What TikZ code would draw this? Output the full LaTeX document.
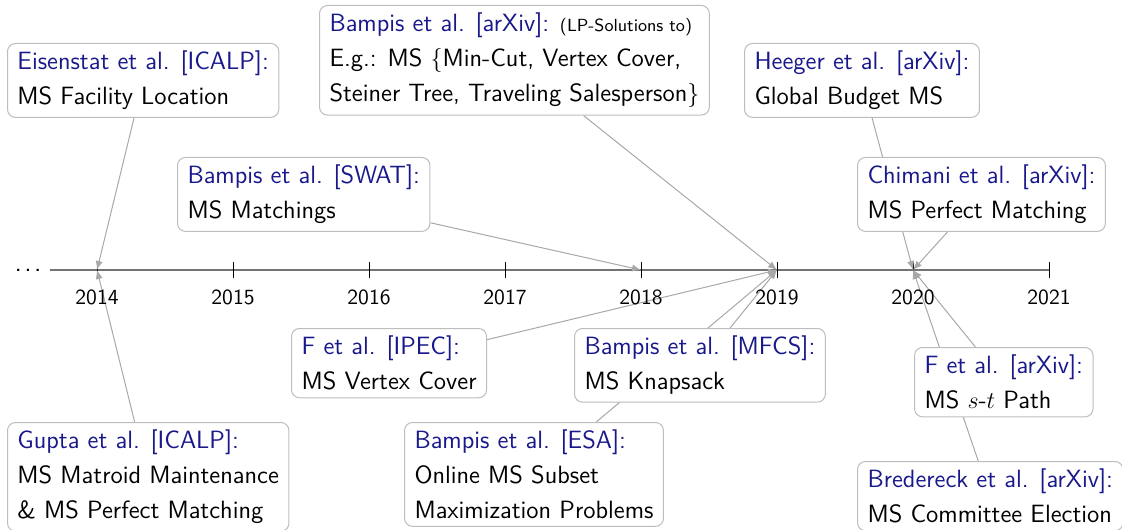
\documentclass[tikz,border=0pt]{standalone}
\usepackage{fontspec}
\usetikzlibrary{arrows.meta,backgrounds}
\definecolor{venue}{rgb}{0.1,0.1,0.55}
\definecolor{framegray}{gray}{0.74}
\definecolor{linkgray}{gray}{0.66}
\definecolor{axisgray}{gray}{0.45}
\newcommand{\who}[1]{\textcolor{venue}{#1}}
\begin{document}
\begin{tikzpicture}[x=0.5pt,y=-0.5pt,
  font=\sffamily\fontsize{12.5}{17.4}\selectfont,
  paper/.style={draw=framegray, line width=0.5pt, fill=white, rounded corners=4pt,
    align=left, anchor=north west, inner xsep=5pt, inner ysep=3.8pt},
  linkline/.style={draw=linkgray, line width=0.5pt, -{Latex[length=4.5pt,width=3.6pt]}},
  yearlabel/.style={font=\sffamily\fontsize{10.8}{12}\selectfont},
  tick/.style={draw=black, line width=0.5pt}]
\useasboundingbox (0,0) rectangle (1122,529);

% years on the time line
\foreach \yr/\xx in {2014/97,2015/233,2016/369,2017/505,2018/641,2019/777,2020/913,2021/1049}{
  \coordinate (y\yr) at (\xx,270);
  \node[yearlabel] (lab\yr) at (\xx,297.5) {\yr};
}
\coordinate (axstart) at (50,270);
\node[anchor=base, inner sep=0pt, font=\sffamily\fontsize{13.5}{14}\selectfont] (dots) at (28,271) {.\kern1.2pt.\kern1.2pt.};

% publications
\node[paper] (eis) at (7,43) {\who{Eisenstat et al. [ICALP]:}\\MS Facility Location};
\node[paper] (bax) at (319,5) {\who{Bampis et al. [arXiv]:} {\fontsize{8.8}{10}\selectfont (LP-Solutions to)}\\E.g.: MS $\{$Min-Cut, Vertex Cover,\\Steiner Tree, Traveling Salesperson$\}$};
\node[paper] (hee) at (744,43) {\who{Heeger et al. [arXiv]:}\\Global Budget MS};
\node[paper] (swat) at (177,157) {\who{Bampis et al. [SWAT]:}\\MS Matchings};
\node[paper] (chi) at (857,157) {\who{Chimani et al. [arXiv]:}\\MS Perfect Matching};
\node[paper] (ipec) at (291,328) {\who{F et al. [IPEC]:}\\MS Vertex Cover};
\node[paper] (mfcs) at (574,328) {\who{Bampis et al. [MFCS]:}\\MS Knapsack};
\node[paper] (farx) at (914,347) {\who{F et al. [arXiv]:}\\MS $s$-$t$ Path};
\node[paper] (gup) at (7,422) {\who{Gupta et al. [ICALP]:}\\MS Matroid Maintenance\\\& MS Perfect Matching};
\node[paper] (esa) at (404,422) {\who{Bampis et al. [ESA]:}\\Online MS Subset\\Maximization Problems};
\node[paper] (bre) at (857,461) {\who{Bredereck et al. [arXiv]:}\\MS Committee Election};

\begin{pgfonlayer}{background}
  % axis with ticks
  \draw[draw=axisgray, line width=1pt] (axstart) -- (y2021);
  \foreach \yr in {2014,...,2021}{
    \draw[tick] ([yshift=4pt]y\yr) -- ([yshift=-4pt]y\yr);
  }
  % links from the boxes to their years
  \draw[linkline] (eis) -- (y2014);
  \draw[linkline] (gup) -- (y2014);
  \draw[linkline] (swat) -- (y2018);
  \draw[linkline] (bax) -- (y2019);
  \draw[linkline] (ipec) -- (y2019);
  \draw[linkline] (mfcs) -- (y2019);
  \draw[linkline] (esa) -- (y2019);
  \draw[linkline] (hee) -- (y2020);
  \draw[linkline] (chi) -- (y2020);
  \draw[linkline] (farx) -- (y2020);
  \draw[linkline] (bre) -- (y2020);
\end{pgfonlayer}
\end{tikzpicture}
\end{document}
